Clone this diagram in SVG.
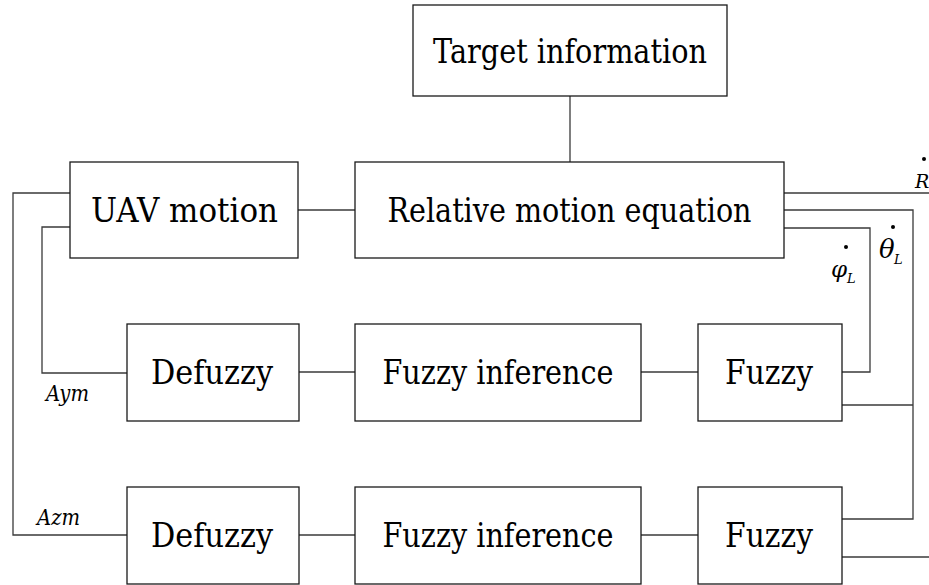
<svg xmlns="http://www.w3.org/2000/svg" width="929" height="585" viewBox="0 0 929 585">
  <style>
    .box { fill: #ffffff; stroke: #1a1a1a; stroke-width: 1.3; }
    .wire { fill: none; stroke: #3a3a3a; stroke-width: 1.3; }
    text { font-family: "DejaVu Serif", "Liberation Serif", serif; fill: #000; }
    .title { font-size: 33px; text-anchor: middle; }
    .sig { font-style: italic; }
    .dot { fill: #000; }
  </style>
  <rect width="929" height="585" fill="#ffffff"/>

  <!-- connectors -->
  <g id="connectors">
    <path class="wire" d="M570 96 V162"/>
    <path class="wire" d="M298 210 H355"/>
    <path class="wire" d="M299 372 H355"/>
    <path class="wire" d="M641 372 H698"/>
    <path class="wire" d="M299 535 H355"/>
    <path class="wire" d="M641 535 H698"/>
    <!-- range rate out -->
    <path class="wire" d="M784 193 H929"/>
    <!-- elevation LOS rate -->
    <path class="wire" d="M784 210 H913 V519 H842"/>
    <path class="wire" d="M913 405 H842"/>
    <!-- azimuth LOS rate -->
    <path class="wire" d="M784 228 H870 V372 H842"/>
    <path class="wire" d="M842 557 H929"/>
    <!-- commanded accelerations back to UAV -->
    <path class="wire" d="M127 373 H42 V227 H70"/>
    <path class="wire" d="M127 535 H13 V193 H70"/>
  </g>

  <g id="target-info">
    <rect class="box" x="413" y="5" width="314" height="91"/>
    <text class="title" x="570" y="63" textLength="274" lengthAdjust="spacingAndGlyphs">Target information</text>
  </g>
  <g id="uav-motion">
    <rect class="box" x="70" y="162" width="228" height="96"/>
    <text class="title" x="184.5" y="222" textLength="187" lengthAdjust="spacingAndGlyphs">UAV motion</text>
  </g>
  <g id="relative-motion">
    <rect class="box" x="355" y="162" width="429" height="96"/>
    <text class="title" x="569.5" y="222" textLength="364" lengthAdjust="spacingAndGlyphs">Relative motion equation</text>
  </g>
  <g id="defuzzy-1">
    <rect class="box" x="127" y="324" width="172" height="97"/>
    <text class="title" x="212" y="384" textLength="122" lengthAdjust="spacingAndGlyphs">Defuzzy</text>
  </g>
  <g id="inference-1">
    <rect class="box" x="355" y="324" width="286" height="97"/>
    <text class="title" x="498" y="384" textLength="231" lengthAdjust="spacingAndGlyphs">Fuzzy inference</text>
  </g>
  <g id="fuzzy-1">
    <rect class="box" x="698" y="324" width="144" height="97"/>
    <text class="title" x="769" y="384" textLength="88" lengthAdjust="spacingAndGlyphs">Fuzzy</text>
  </g>
  <g id="defuzzy-2">
    <rect class="box" x="127" y="487" width="172" height="97"/>
    <text class="title" x="212" y="547" textLength="122" lengthAdjust="spacingAndGlyphs">Defuzzy</text>
  </g>
  <g id="inference-2">
    <rect class="box" x="355" y="487" width="286" height="97"/>
    <text class="title" x="498" y="547" textLength="231" lengthAdjust="spacingAndGlyphs">Fuzzy inference</text>
  </g>
  <g id="fuzzy-2">
    <rect class="box" x="698" y="487" width="144" height="97"/>
    <text class="title" x="769" y="547" textLength="88" lengthAdjust="spacingAndGlyphs">Fuzzy</text>
  </g>

  <!-- signal labels -->
  <g id="labels">
    <text class="sig" x="46" y="401" font-size="23" textLength="43" lengthAdjust="spacingAndGlyphs">Aym</text>
    <text class="sig" x="37" y="525" font-size="23" textLength="43" lengthAdjust="spacingAndGlyphs">Azm</text>
    <circle class="dot" cx="924" cy="159" r="2"/>
    <text class="sig" x="915" y="188" font-size="19">R</text>
    <circle class="dot" cx="893" cy="227" r="2"/>
    <text class="sig" x="879" y="258" font-size="26">θ</text>
    <text class="sig" x="894" y="264" font-size="13">L</text>
    <circle class="dot" cx="846" cy="247" r="2"/>
    <text class="sig" x="831" y="277" font-size="23">φ</text>
    <text class="sig" x="847" y="283" font-size="13">L</text>
  </g>
</svg>
